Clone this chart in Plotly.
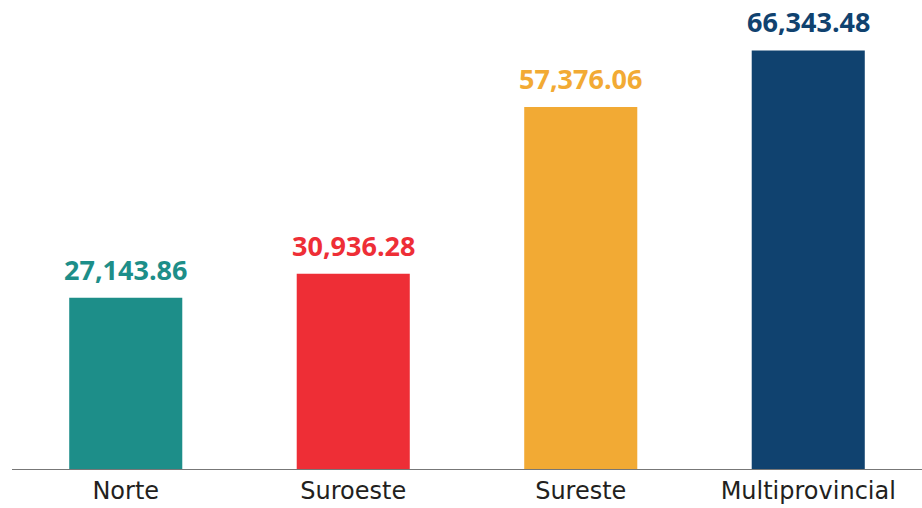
import plotly.graph_objects as go

categories = ["Norte", "Suroeste", "Sureste", "Multiprovincial"]
values = [27143.86, 30936.28, 57376.06, 66343.48]
colors = ["#1d8e89", "#ee2e36", "#f2aa34", "#10426f"]
value_labels = ["27,143.86", "30,936.28", "57,376.06", "66,343.48"]

fig = go.Figure()
fig.add_trace(go.Bar(x=categories, y=values, marker=dict(color=colors, line=dict(width=0)),
                     width=0.497, hoverinfo="skip"))

for c, v, t, col in zip(categories, values, value_labels, colors):
    fig.add_annotation(x=c, y=v, text="<b>" + t + "</b>", showarrow=False,
                       yanchor="bottom", yshift=8,
                       font=dict(family="Open Sans", size=27, color=col))

fig.update_layout(
    width=922, height=508,
    margin=dict(l=12, r=0, t=0, b=39),
    paper_bgcolor="white", plot_bgcolor="white",
    showlegend=False,
    xaxis=dict(showline=True, linecolor="#777777", linewidth=1, ticks="",
               automargin=False,
               tickfont=dict(family="DejaVu Sans", size=24, color="#231f20"),
               showgrid=False, zeroline=False),
    yaxis=dict(range=[0, 74340], visible=False, showgrid=False, zeroline=False,
               automargin=False),
)
fig.write_html("out.html", config={"displayModeBar": False},
               post_script="document.body.style.margin='0';document.body.style.overflow='hidden';")
